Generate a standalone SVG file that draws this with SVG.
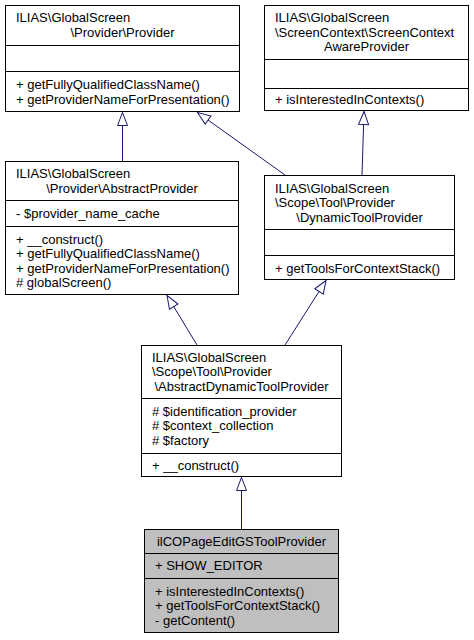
<svg xmlns="http://www.w3.org/2000/svg" width="474" height="640" viewBox="0 0 474 640">
<style>
.box{fill:#ffffff;stroke:#000000;stroke-width:1}
.cur{fill:#bfbfbf;stroke:#000000;stroke-width:1}
.sep{stroke:#000000;stroke-width:1}
text{font-family:"Liberation Sans",Arial,Helvetica,sans-serif;font-size:13px;fill:#000000}
.c{text-anchor:middle}
.edge{fill:none;stroke:#191970;stroke-width:1;marker-end:url(#inh)}
</style>
<defs>
<marker id="inh" markerUnits="userSpaceOnUse" markerWidth="18" markerHeight="14" viewBox="-15 -7 18 14" refX="0" refY="0" orient="auto" overflow="visible">
<path d="M0,0 L-13,-5 L-13,5 Z" fill="#ffffff" stroke="#191970" stroke-width="1"/>
</marker>
</defs>
<rect width="474" height="640" fill="#ffffff"/>
<g id="connectors">
<path class="edge" d="M122.5,161 L122.5,112.5"/>
<path class="edge" d="M285,175 L197.5,112.5"/>
<path class="edge" d="M362,175 L364,111.5"/>
<path class="edge" d="M197,345 L167,295.5"/>
<path class="edge" d="M285,345 L326,280.5"/>
<path class="edge" d="M241.5,529 L241.5,477.5"/>
</g>
<g id="node-provider">
<rect class="box" x="5.5" y="5.5" width="234" height="106"/>
<line class="sep" x1="5.5" y1="45.5" x2="239.5" y2="45.5"/>
<line class="sep" x1="5.5" y1="71.5" x2="239.5" y2="71.5"/>
<text x="16" y="22">ILIAS\GlobalScreen</text>
<text class="c" x="122.5" y="37">\Provider\Provider</text>
<text x="16" y="89">+ getFullyQualifiedClassName()</text>
<text x="16" y="103.5">+ getProviderNameForPresentation()</text>
</g>
<g id="node-screencontextawareprovider">
<rect class="box" x="264.5" y="5.5" width="204" height="105"/>
<line class="sep" x1="264.5" y1="59.5" x2="468.5" y2="59.5"/>
<line class="sep" x1="264.5" y1="88.5" x2="468.5" y2="88.5"/>
<text x="275" y="22">ILIAS\GlobalScreen</text>
<text x="275" y="36.5">\ScreenContext\ScreenContext</text>
<text class="c" x="366.5" y="51">AwareProvider</text>
<text x="275" y="104">+ isInterestedInContexts()</text>
</g>
<g id="node-abstractprovider">
<rect class="box" x="5.5" y="161.5" width="233" height="133"/>
<line class="sep" x1="5.5" y1="200.5" x2="238.5" y2="200.5"/>
<line class="sep" x1="5.5" y1="226.5" x2="238.5" y2="226.5"/>
<text x="16" y="178">ILIAS\GlobalScreen</text>
<text class="c" x="122" y="192.5">\Provider\AbstractProvider</text>
<text x="16" y="217.5">- $provider_name_cache</text>
<text x="16" y="243.5">+ __construct()</text>
<text x="16" y="258">+ getFullyQualifiedClassName()</text>
<text x="16" y="272.5">+ getProviderNameForPresentation()</text>
<text x="16" y="287"># globalScreen()</text>
</g>
<g id="node-dynamictoolprovider">
<rect class="box" x="264.5" y="175.5" width="190" height="104"/>
<line class="sep" x1="264.5" y1="229.5" x2="454.5" y2="229.5"/>
<line class="sep" x1="264.5" y1="255.5" x2="454.5" y2="255.5"/>
<text x="275" y="192.5">ILIAS\GlobalScreen</text>
<text x="275" y="207">\Scope\Tool\Provider</text>
<text class="c" x="359.5" y="221.5">\DynamicToolProvider</text>
<text x="275" y="272.5">+ getToolsForContextStack()</text>
</g>
<g id="node-abstractdynamictoolprovider">
<rect class="box" x="141.5" y="345.5" width="200" height="131"/>
<line class="sep" x1="141.5" y1="398.5" x2="341.5" y2="398.5"/>
<line class="sep" x1="141.5" y1="453.5" x2="341.5" y2="453.5"/>
<text x="152" y="361.5">ILIAS\GlobalScreen</text>
<text x="152" y="376">\Scope\Tool\Provider</text>
<text class="c" x="241.5" y="390.5">\AbstractDynamicToolProvider</text>
<text x="152" y="415.5"># $identification_provider</text>
<text x="152" y="430"># $context_collection</text>
<text x="152" y="444.5"># $factory</text>
<text x="152" y="469.5">+ __construct()</text>
</g>
<g id="node-ilcopageeditgstoolprovider">
<rect class="cur" x="144.5" y="529.5" width="194" height="103"/>
<line class="sep" x1="144.5" y1="553.5" x2="338.5" y2="553.5"/>
<line class="sep" x1="144.5" y1="578.5" x2="338.5" y2="578.5"/>
<text class="c" x="241.5" y="545.5">ilCOPageEditGSToolProvider</text>
<text x="155" y="570">+ SHOW_EDITOR</text>
<text x="155" y="595.5">+ isInterestedInContexts()</text>
<text x="155" y="610">+ getToolsForContextStack()</text>
<text x="155" y="624.5">- getContent()</text>
</g>
</svg>
